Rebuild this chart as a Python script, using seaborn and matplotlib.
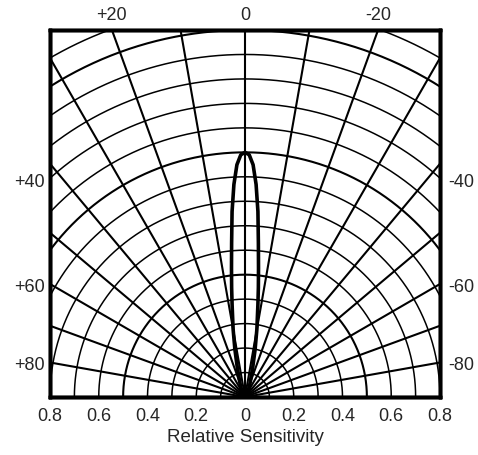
import numpy as np
import pandas as pd
import matplotlib
matplotlib.use('Agg')
import matplotlib.pyplot as plt
import seaborn as sns

sns.set_style('white')
plt.rcParams['font.family'] = ['Liberation Sans', 'DejaVu Sans']

# grid definition
RADII = [0.1, 0.2, 0.3, 0.4, 0.5, 0.6, 0.7, 0.8, 0.9, 1.0, 1.1, 1.2, 1.3, 1.4, 1.5, 1.6]
MAJOR_RADII = [0.5, 1.0, 1.5]
ANGLES = [-90, -80, -70, -60, -50, -40, -30, -20, -10, 0, 10, 20, 30, 40, 50, 60, 70, 80, 90]

# sensitivity lobe (angle in degrees, relative sensitivity)
lobe_angle = [-90, -30, -20, -15, -12, -10, -8, -7, -6, -5, -4, -3, -2, -1, 0,
              1, 2, 3, 4, 5, 6, 7, 8, 10, 12, 15, 20, 30, 90]
lobe_sens = [0.0, 0.03, 0.06, 0.12, 0.2, 0.28, 0.38, 0.45, 0.53, 0.63, 0.76, 0.87, 0.95, 0.99, 1.0,
             0.99, 0.95, 0.87, 0.76, 0.63, 0.53, 0.45, 0.38, 0.28, 0.2, 0.12, 0.06, 0.03, 0.0]

x_ticks = [-0.8, -0.6, -0.4, -0.2, 0.0, 0.2, 0.4, 0.6, 0.8]
x_labels = ['0.8', '0.6', '0.4', '0.2', '0', '0.2', '0.4', '0.6', '0.8']
top_angles = [20, 0, -20]
top_labels = ['+20', '0', '-20']
left_pos = [0.885, 0.455, 0.135]
left_labels = ['+40', '+60', '+80']
right_labels = ['-40', '-60', '-80']


def to_xy(theta_deg, r):
    t = np.radians(theta_deg)
    return -r * np.sin(t), r * np.cos(t)


rows = []
th = np.linspace(-90, 90, 721)
for r in RADII:
    x, y = to_xy(th, r)
    rows.append(pd.DataFrame({'x': x, 'y': y, 'id': f'r{r}', 'major': r in MAJOR_RADII}))
arcs = pd.concat(rows, ignore_index=True)

rows = []
for a in ANGLES:
    x, y = to_xy(np.array([a, a]), np.array([0.0, 2.0]))
    rows.append(pd.DataFrame({'x': x, 'y': y, 'id': f'a{a}'}))
spokes = pd.concat(rows, ignore_index=True)

lx, ly = to_xy(np.array(lobe_angle, dtype=float), np.array(lobe_sens))
lobe = pd.DataFrame({'x': lx, 'y': ly})

fig = plt.figure(figsize=(4.78, 4.55), dpi=100)
ax = fig.add_axes([50 / 478, 58 / 455, 390 / 478, 367 / 455])

sns.lineplot(data=arcs[~arcs['major']], x='x', y='y', units='id', estimator=None,
             sort=False, color='black', lw=1.1, ax=ax)
sns.lineplot(data=arcs[arcs['major']], x='x', y='y', units='id', estimator=None,
             sort=False, color='black', lw=1.5, ax=ax)
sns.lineplot(data=spokes, x='x', y='y', units='id', estimator=None,
             sort=False, color='black', lw=1.5, ax=ax)
sns.lineplot(data=lobe, x='x', y='y', estimator=None, sort=False,
             color='black', lw=2.6, ax=ax)

ax.set_xlim(-0.8, 0.8)
ax.set_ylim(0, 1.5)
ax.set_xticks(x_ticks)
ax.set_xticklabels(x_labels, fontsize=13)
ax.set_yticks(left_pos)
ax.set_yticklabels(left_labels, fontsize=13)
ax.tick_params(axis='x', length=0, pad=8)
ax.tick_params(axis='y', length=0, pad=4)
ax.set_xlabel('Relative Sensitivity', fontsize=13.5, labelpad=3)
ax.set_ylabel('')

ax2 = ax.twinx()
ax2.set_ylim(0, 1.5)
ax2.set_yticks(left_pos)
ax2.set_yticklabels(right_labels, fontsize=13)
ax2.tick_params(axis='y', length=0, pad=6)

ax3 = ax.twiny()
ax3.set_xlim(-0.8, 0.8)
ax3.set_xticks([-1.5 * np.tan(np.radians(a)) for a in top_angles])
ax3.set_xticklabels(top_labels, fontsize=13)
ax3.tick_params(axis='x', length=0, pad=4)

for a in (ax, ax2, ax3):
    for s in a.spines.values():
        s.set_color('black')
        s.set_linewidth(2.5)

plt.savefig('out.png', dpi=100)
plt.close()
